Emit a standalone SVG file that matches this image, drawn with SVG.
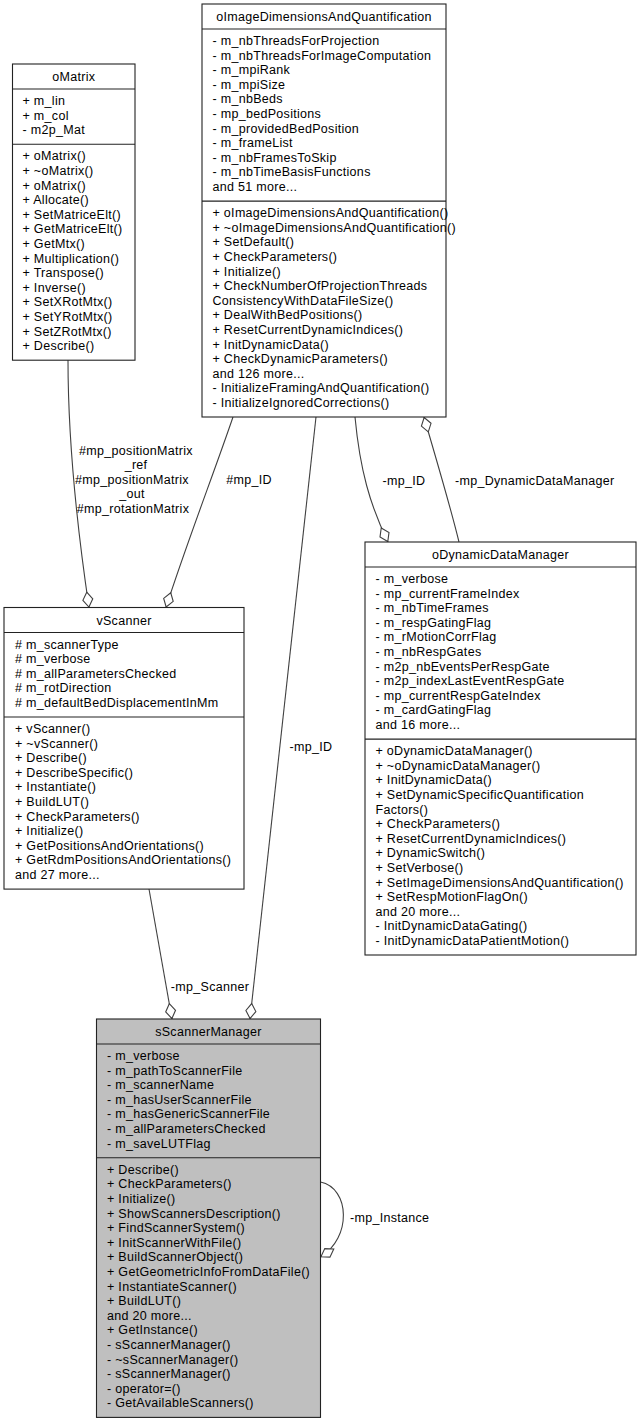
<svg xmlns="http://www.w3.org/2000/svg" width="641" height="1424" viewBox="0 0 641 1424">
<style>
.box{fill:#fff;stroke:#222;stroke-width:1.1}
.hl{fill:#bfbfbf}
.sep{stroke:#222;stroke-width:1.1}
text{font-family:"Liberation Sans",Arial,Helvetica,sans-serif;font-size:12.5px;letter-spacing:0.3px;fill:#000}
.c{text-anchor:middle}
.edge{fill:none;stroke:#404040;stroke-width:1.1;marker-end:url(#od)}
</style>
<defs>
<marker id="od" viewBox="-1 -6 18 12" refX="15.5" refY="0" markerWidth="18" markerHeight="12" markerUnits="userSpaceOnUse" orient="auto">
<path d="M0,0 L7.5,-5 L15,0 L7.5,5 Z" fill="#fff" stroke="#404040" stroke-width="1.1"/>
</marker>
</defs>

<g id="connectors">
<path class="edge" d="M68,360 C68,450 79,540 89,607.5"/>
<path class="edge" d="M233,417 C215,470 186,545 166,607.5"/>
<path class="edge" d="M316,417 L250,1019"/>
<path class="edge" d="M149,889 L172,1019"/>
<path class="edge" d="M355,417 C360,470 370,505 388,542"/>
<path class="edge" d="M459,542 C450,505 437,462 424,417"/>
<path class="edge" d="M320.5,1182 C350,1188 352,1238 320.5,1257"/>
<text class="c" x="136" y="455">#mp_positionMatrix</text>
<text class="c" x="136" y="469">_ref</text>
<text class="c" x="132" y="484">#mp_positionMatrix</text>
<text class="c" x="132" y="498">_out</text>
<text class="c" x="133" y="512.5">#mp_rotationMatrix</text>
<text class="c" x="249" y="484">#mp_ID</text>
<text class="c" x="311" y="751">-mp_ID</text>
<text class="c" x="210" y="991">-mp_Scanner</text>
<text class="c" x="404" y="485">-mp_ID</text>
<text x="455" y="485">-mp_DynamicDataManager</text>
<text x="350" y="1221.5">-mp_Instance</text>
</g>

<g id="oMatrix">
<rect class="box" x="12.5" y="64" width="122.5" height="296.2"/>
<line class="sep" x1="12.5" y1="89" x2="135" y2="89"/>
<line class="sep" x1="12.5" y1="144.3" x2="135" y2="144.3"/>
<text class="c" x="73.75" y="81">oMatrix</text>
<text x="22.5" y="105">+ m_lin</text>
<text x="22.5" y="119.6">+ m_col</text>
<text x="22.5" y="134.2">- m2p_Mat</text>
<text x="22.5" y="160.3">+ oMatrix()</text>
<text x="22.5" y="174.9">+ ~oMatrix()</text>
<text x="22.5" y="189.5">+ oMatrix()</text>
<text x="22.5" y="204.1">+ Allocate()</text>
<text x="22.5" y="218.7">+ SetMatriceElt()</text>
<text x="22.5" y="233.3">+ GetMatriceElt()</text>
<text x="22.5" y="247.9">+ GetMtx()</text>
<text x="22.5" y="262.5">+ Multiplication()</text>
<text x="22.5" y="277.1">+ Transpose()</text>
<text x="22.5" y="291.7">+ Inverse()</text>
<text x="22.5" y="306.3">+ SetXRotMtx()</text>
<text x="22.5" y="320.9">+ SetYRotMtx()</text>
<text x="22.5" y="335.5">+ SetZRotMtx()</text>
<text x="22.5" y="350.1">+ Describe()</text>
</g>

<g id="oImageDimensionsAndQuantification">
<rect class="box" x="202" y="4" width="244" height="413"/>
<line class="sep" x1="202" y1="29" x2="446" y2="29"/>
<line class="sep" x1="202" y1="201.1" x2="446" y2="201.1"/>
<text class="c" x="324" y="21">oImageDimensionsAndQuantification</text>
<text x="212.5" y="45">- m_nbThreadsForProjection</text>
<text x="212.5" y="59.6">- m_nbThreadsForImageComputation</text>
<text x="212.5" y="74.2">- m_mpiRank</text>
<text x="212.5" y="88.8">- m_mpiSize</text>
<text x="212.5" y="103.4">- m_nbBeds</text>
<text x="212.5" y="118">- mp_bedPositions</text>
<text x="212.5" y="132.6">- m_providedBedPosition</text>
<text x="212.5" y="147.2">- m_frameList</text>
<text x="212.5" y="161.8">- m_nbFramesToSkip</text>
<text x="212.5" y="176.4">- m_nbTimeBasisFunctions</text>
<text x="212.5" y="191">and 51 more...</text>
<text x="212.5" y="217.1">+ oImageDimensionsAndQuantification()</text>
<text x="212.5" y="231.7">+ ~oImageDimensionsAndQuantification()</text>
<text x="212.5" y="246.3">+ SetDefault()</text>
<text x="212.5" y="260.9">+ CheckParameters()</text>
<text x="212.5" y="275.5">+ Initialize()</text>
<text x="212.5" y="290.1">+ CheckNumberOfProjectionThreads</text>
<text x="212.5" y="304.7">ConsistencyWithDataFileSize()</text>
<text x="212.5" y="319.3">+ DealWithBedPositions()</text>
<text x="212.5" y="333.9">+ ResetCurrentDynamicIndices()</text>
<text x="212.5" y="348.5">+ InitDynamicData()</text>
<text x="212.5" y="363.1">+ CheckDynamicParameters()</text>
<text x="212.5" y="377.7">and 126 more...</text>
<text x="212.5" y="392.3">- InitializeFramingAndQuantification()</text>
<text x="212.5" y="406.9">- InitializeIgnoredCorrections()</text>
</g>

<g id="vScanner">
<rect class="box" x="4" y="607.5" width="240" height="281.6"/>
<line class="sep" x1="4" y1="632.5" x2="244" y2="632.5"/>
<line class="sep" x1="4" y1="717" x2="244" y2="717"/>
<text class="c" x="124" y="624.5">vScanner</text>
<text x="15" y="648.5"># m_scannerType</text>
<text x="15" y="663.1"># m_verbose</text>
<text x="15" y="677.7"># m_allParametersChecked</text>
<text x="15" y="692.3"># m_rotDirection</text>
<text x="15" y="706.9"># m_defaultBedDisplacementInMm</text>
<text x="15" y="733">+ vScanner()</text>
<text x="15" y="747.6">+ ~vScanner()</text>
<text x="15" y="762.2">+ Describe()</text>
<text x="15" y="776.8">+ DescribeSpecific()</text>
<text x="15" y="791.4">+ Instantiate()</text>
<text x="15" y="806">+ BuildLUT()</text>
<text x="15" y="820.6">+ CheckParameters()</text>
<text x="15" y="835.2">+ Initialize()</text>
<text x="15" y="849.8">+ GetPositionsAndOrientations()</text>
<text x="15" y="864.4">+ GetRdmPositionsAndOrientations()</text>
<text x="15" y="879">and 27 more...</text>
</g>

<g id="oDynamicDataManager">
<rect class="box" x="365" y="542" width="271" height="413"/>
<line class="sep" x1="365" y1="567" x2="636" y2="567"/>
<line class="sep" x1="365" y1="739.1" x2="636" y2="739.1"/>
<text class="c" x="500.5" y="559">oDynamicDataManager</text>
<text x="375.5" y="583">- m_verbose</text>
<text x="375.5" y="597.6">- mp_currentFrameIndex</text>
<text x="375.5" y="612.2">- m_nbTimeFrames</text>
<text x="375.5" y="626.8">- m_respGatingFlag</text>
<text x="375.5" y="641.4">- m_rMotionCorrFlag</text>
<text x="375.5" y="656">- m_nbRespGates</text>
<text x="375.5" y="670.6">- m2p_nbEventsPerRespGate</text>
<text x="375.5" y="685.2">- m2p_indexLastEventRespGate</text>
<text x="375.5" y="699.8">- mp_currentRespGateIndex</text>
<text x="375.5" y="714.4">- m_cardGatingFlag</text>
<text x="375.5" y="729">and 16 more...</text>
<text x="375.5" y="755.1">+ oDynamicDataManager()</text>
<text x="375.5" y="769.7">+ ~oDynamicDataManager()</text>
<text x="375.5" y="784.3">+ InitDynamicData()</text>
<text x="375.5" y="798.9">+ SetDynamicSpecificQuantification</text>
<text x="375.5" y="813.5">Factors()</text>
<text x="375.5" y="828.1">+ CheckParameters()</text>
<text x="375.5" y="842.7">+ ResetCurrentDynamicIndices()</text>
<text x="375.5" y="857.3">+ DynamicSwitch()</text>
<text x="375.5" y="871.9">+ SetVerbose()</text>
<text x="375.5" y="886.5">+ SetImageDimensionsAndQuantification()</text>
<text x="375.5" y="901.1">+ SetRespMotionFlagOn()</text>
<text x="375.5" y="915.7">and 20 more...</text>
<text x="375.5" y="930.3">- InitDynamicDataGating()</text>
<text x="375.5" y="944.9">- InitDynamicDataPatientMotion()</text>
</g>

<g id="sScannerManager">
<rect class="box hl" x="96.5" y="1019" width="224" height="398.4"/>
<line class="sep" x1="96.5" y1="1044" x2="320.5" y2="1044"/>
<line class="sep" x1="96.5" y1="1157.7" x2="320.5" y2="1157.7"/>
<text class="c" x="208.5" y="1036">sScannerManager</text>
<text x="107" y="1060">- m_verbose</text>
<text x="107" y="1074.6">- m_pathToScannerFile</text>
<text x="107" y="1089.2">- m_scannerName</text>
<text x="107" y="1103.8">- m_hasUserScannerFile</text>
<text x="107" y="1118.4">- m_hasGenericScannerFile</text>
<text x="107" y="1133">- m_allParametersChecked</text>
<text x="107" y="1147.6">- m_saveLUTFlag</text>
<text x="107" y="1173.7">+ Describe()</text>
<text x="107" y="1188.3">+ CheckParameters()</text>
<text x="107" y="1202.9">+ Initialize()</text>
<text x="107" y="1217.5">+ ShowScannersDescription()</text>
<text x="107" y="1232.1">+ FindScannerSystem()</text>
<text x="107" y="1246.7">+ InitScannerWithFile()</text>
<text x="107" y="1261.3">+ BuildScannerObject()</text>
<text x="107" y="1275.9">+ GetGeometricInfoFromDataFile()</text>
<text x="107" y="1290.5">+ InstantiateScanner()</text>
<text x="107" y="1305.1">+ BuildLUT()</text>
<text x="107" y="1319.7">and 20 more...</text>
<text x="107" y="1334.3">+ GetInstance()</text>
<text x="107" y="1348.9">- sScannerManager()</text>
<text x="107" y="1363.5">- ~sScannerManager()</text>
<text x="107" y="1378.1">- sScannerManager()</text>
<text x="107" y="1392.7">- operator=()</text>
<text x="107" y="1407.3">- GetAvailableScanners()</text>
</g>
</svg>
